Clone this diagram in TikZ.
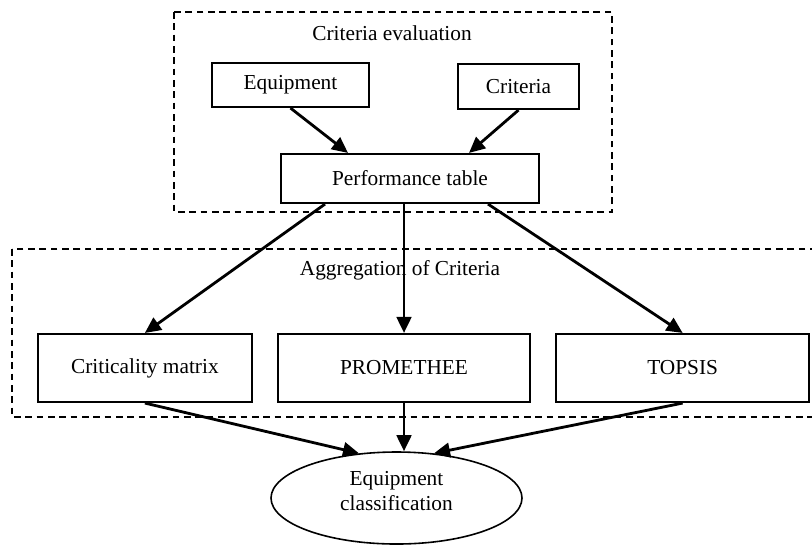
\documentclass[tikz,border=0pt]{standalone}
\usepackage{fontspec}
\setmainfont{Liberation Serif}
\usetikzlibrary{
  shapes.geometric,
  calc,
  positioning,
  arrows.meta
}
\begin{document}
\begin{tikzpicture}[x=0.75pt, y=-0.75pt, node distance = 18pt,
    font = \fontsize{16}{18.75}\selectfont,
    box/.style = {rectangle, draw, line width=1.6pt, inner sep=0pt, align=center},
    group/.style = {draw, line width=1.4pt, dash pattern=on 5pt off 3.5pt},
    link/.style = {line width=2.1pt, -{Triangle[length=12pt,width=11pt]}}]
    \useasboundingbox (0,0) rectangle (812,544);
    \draw[group] (174,12) rectangle (612,212);
    \draw[group] (12,249) rectangle (830,417);
    \node (evl) at (392,33) {Criteria evaluation};
    \node (agl) at (400,270) {Aggregation of Criteria};

    \node[box, minimum width=117.75pt, minimum height=33pt] (eq) at (290.5,85) {Equipment};
    \node[box, minimum width=90.75pt, minimum height=33.75pt] (cr) at (518.5,86.5) {Criteria};
    \node[box, minimum width=193.5pt, minimum height=36.75pt] (pt) at (410,178.5) {Performance table};
    \node[box, minimum width=189pt, minimum height=51pt] (prom) at (404,368) {PROMETHEE};
    \node[box, minimum width=160.5pt, minimum height=51pt, left = of prom] (crit) {Criticality matrix};
    \node[box, minimum width=189.75pt, minimum height=51pt, right = of prom] (tops) {TOPSIS};
    \node[ellipse, draw, line width=1.2pt, inner sep=0pt, align=center,
      minimum width=188.25pt, minimum height=69pt] (ec) at (396.5,498) {Equipment\\classification\\[-8pt]};

    \draw[link] (eq.south) -- ($(pt.north)+(-62,0)$);
    \draw[link] (cr.south) -- ($(pt.north)+(59,0)$);
    \draw[link] ($(pt.south)+(-85,0)$) -- (crit.north);
    \draw[link] (prom.north |- pt.south) -- (prom.north);
    \draw[link] ($(pt.south)+(78,0)$) -- (tops.north);
    \draw[link] (crit.south) -- (ec.130);
    \draw[link] (prom.south) -- (ec.north -| prom.south);
    \draw[link] (tops.south) -- (ec.50);
  \end{tikzpicture}
\end{document}
